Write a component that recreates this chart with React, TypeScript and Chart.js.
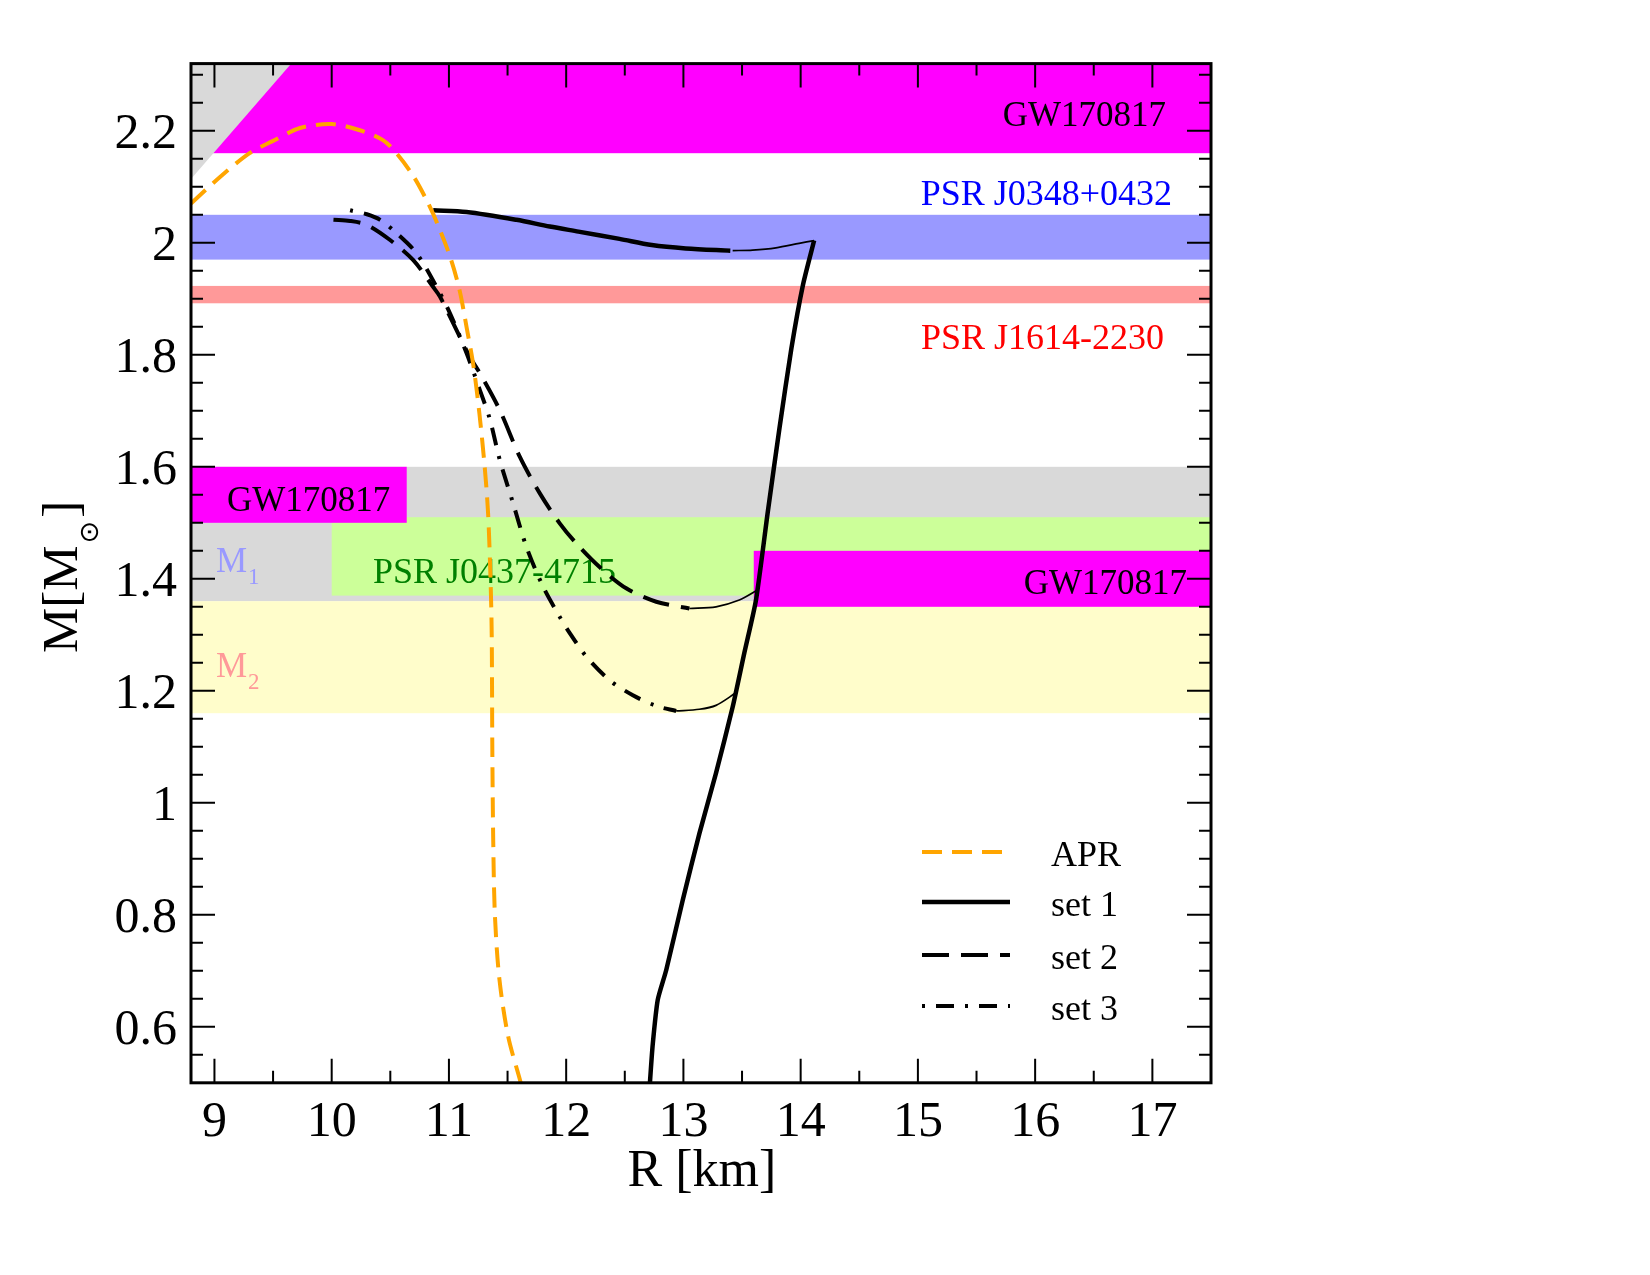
import { useEffect, useRef } from 'react';
import { Chart, registerables } from 'chart.js';

Chart.register(...registerables);

// ---- axis ranges and ticks ----
const rRange = [8.8, 17.5];
const mRange = [0.5, 2.32];
const rMajorTicks = [9, 10, 11, 12, 13, 14, 15, 16, 17];
const rMinorTicks = [9.5, 10.5, 11.5, 12.5, 13.5, 14.5, 15.5, 16.5];
const mMajorTicks = [0.6, 0.8, 1.0, 1.2, 1.4, 1.6, 1.8, 2.0, 2.2];
const mMajorLabels = ['0.6', '0.8', '1', '1.2', '1.4', '1.6', '1.8', '2', '2.2'];
const mMinorStep = 0.05;

// ---- observational constraints (R in km, M in solar masses) ----
const gwUpperMass = [2.16, 2.32];
const causalityEdge = [
  [8.8, 2.11],
  [9.67, 2.32],
];
const psrJ0348Mass = [1.97, 2.05];
const psrJ1614Mass = [1.892, 1.923];
const m1Mass = [1.36, 1.6];
const m2Mass = [1.16, 1.36];
const psrJ0437Radius = [10.0, 17.5];
const psrJ0437Mass = [1.37, 1.51];
const gwM1Radius = [8.8, 10.64];
const gwM1Mass = [1.5, 1.6];
const gwM2Radius = [13.6, 17.5];
const gwM2Mass = [1.35, 1.45];

// ---- mass-radius curves: [R, M] ----
const aprCurve = [
  [8.8, 2.07], [9.05, 2.118], [9.3, 2.16], [9.5, 2.182], [9.73, 2.205], [10.0, 2.212],
  [10.24, 2.201], [10.44, 2.183], [10.56, 2.158], [10.7, 2.118], [10.81, 2.076],
  [10.9, 2.035], [11.01, 1.975], [11.09, 1.916], [11.15, 1.85], [11.21, 1.779],
  [11.26, 1.695], [11.305, 1.6], [11.334, 1.517], [11.355, 1.398], [11.365, 1.3],
  [11.37, 1.1], [11.378, 0.93], [11.392, 0.8], [11.43, 0.686], [11.505, 0.583],
  [11.61, 0.502], [11.65, 0.47],
];

const set1Hadronic = [
  [12.71, 0.48], [12.716, 0.505], [12.739, 0.57], [12.781, 0.648], [12.853, 0.701],
  [12.994, 0.826], [13.136, 0.945], [13.278, 1.053], [13.42, 1.171], [13.519, 1.267],
  [13.619, 1.362], [13.72, 1.52], [13.82, 1.67], [13.92, 1.81], [14.02, 1.925], [14.115, 2.004],
];
const set1Unstable = [
  [14.115, 2.004], [13.987, 1.999], [13.789, 1.991], [13.59, 1.987], [13.42, 1.986],
];
const set1Hybrid = [
  [13.4, 1.986], [13.02, 1.99], [12.73, 1.996], [12.455, 2.007], [12.105, 2.02],
  [11.86, 2.029], [11.576, 2.041], [11.15, 2.055], [10.866, 2.058],
];

const set2Hybrid = [
  [10.015, 2.041], [10.157, 2.039], [10.3, 2.032], [10.498, 2.005], [10.696, 1.969],
  [10.866, 1.921], [10.923, 1.904], [11.009, 1.868], [11.179, 1.796], [11.264, 1.767],
  [11.434, 1.701], [11.604, 1.618], [11.774, 1.553], [11.945, 1.499], [12.087, 1.463],
  [12.285, 1.421], [12.512, 1.383], [12.768, 1.359], [13.051, 1.347],
];
const set2Unstable = [
  [13.051, 1.347], [13.278, 1.35], [13.477, 1.362], [13.633, 1.38],
];

const set3Hybrid = [
  [10.157, 2.058], [10.3, 2.051], [10.413, 2.041], [10.555, 2.017], [10.725, 1.981],
  [10.895, 1.921], [11.009, 1.874], [11.15, 1.803], [11.264, 1.737], [11.349, 1.685],
  [11.434, 1.612], [11.547, 1.535], [11.661, 1.457], [11.803, 1.386], [11.945, 1.332],
  [12.015, 1.308], [12.172, 1.261], [12.37, 1.219], [12.569, 1.192], [12.768, 1.173],
  [12.938, 1.164],
];
const set3Unstable = [
  [12.938, 1.164], [13.136, 1.167], [13.278, 1.174], [13.445, 1.196],
];

// ---- styling ----
const SERIF = '"Liberation Serif", "Times New Roman", serif';
const COLORS = {
  apr: '#FFA500',
  black: '#000000',
  magenta: '#FF00FF',
  gray: '#D9D9D9',
  yellow: '#FFFDCB',
  green: '#CCFF99',
  blueBand: '#9999FF',
  redBand: '#FF9999',
};
const DASH_APR = [20, 10];
const DASH_SET2 = [27, 12];
const DASH_SET3 = [3, 11, 18, 11];
const W_APR = 4;
const W_SOLID = 4.5;
const W_DASHED = 4;
const W_THIN = 1.7;

const toXY = (pts: number[][]) => pts.map(([r, m]) => ({ x: r, y: m }));

const bandLabels = [
  { text: 'GW170817', x: 1166, y: 126, align: 'right', color: '#000000', size: 35 },
  { text: 'PSR J0348+0432', x: 1172, y: 205, align: 'right', color: '#0000FF', size: 36 },
  { text: 'PSR J1614-2230', x: 1164, y: 349, align: 'right', color: '#FF0000', size: 36 },
  { text: 'GW170817', x: 227, y: 511, align: 'left', color: '#000000', size: 35 },
  { text: 'PSR J0437-4715', x: 373, y: 583, align: 'left', color: '#008000', size: 36 },
  { text: 'GW170817', x: 1187, y: 594, align: 'right', color: '#000000', size: 35 },
];

const legendRows = [
  { label: 'APR', color: COLORS.apr, dash: DASH_APR, width: W_APR, y: 852 },
  { label: 'set 1', color: COLORS.black, dash: [] as number[], width: W_SOLID, y: 902 },
  { label: 'set 2', color: COLORS.black, dash: DASH_SET2, width: W_DASHED, y: 955 },
  { label: 'set 3', color: COLORS.black, dash: DASH_SET3, width: W_DASHED, y: 1006 },
];

const decorPlugin = {
  id: 'mrDecor',
  beforeDatasetsDraw(chart: any) {
    const { ctx, chartArea: a, scales } = chart;
    const x = scales.x;
    const y = scales.y;
    ctx.save();
    ctx.beginPath();
    ctx.rect(a.left, a.top, a.right - a.left, a.bottom - a.top);
    ctx.clip();

    const band = (r: number[], m: number[], color: string) => {
      const x0 = x.getPixelForValue(r[0]);
      const x1 = x.getPixelForValue(r[1]);
      const y0 = y.getPixelForValue(m[1]);
      const y1 = y.getPixelForValue(m[0]);
      ctx.fillStyle = color;
      ctx.fillRect(x0, y0, x1 - x0, y1 - y0);
    };

    band(rRange, m1Mass, COLORS.gray);
    band(rRange, m2Mass, COLORS.yellow);
    band(psrJ0437Radius, psrJ0437Mass, COLORS.green);
    band(gwM1Radius, gwM1Mass, COLORS.magenta);
    band(gwM2Radius, gwM2Mass, COLORS.magenta);
    band(rRange, psrJ0348Mass, COLORS.blueBand);
    band(rRange, psrJ1614Mass, COLORS.redBand);
    band(rRange, gwUpperMass, COLORS.magenta);

    // causality-excluded corner
    ctx.fillStyle = COLORS.gray;
    ctx.beginPath();
    ctx.moveTo(x.getPixelForValue(causalityEdge[0][0]) - 2, y.getPixelForValue(causalityEdge[0][1]));
    ctx.lineTo(x.getPixelForValue(causalityEdge[1][0]), y.getPixelForValue(causalityEdge[1][1]) - 2);
    ctx.lineTo(a.left - 2, a.top - 2);
    ctx.closePath();
    ctx.fill();

    // band captions
    ctx.textBaseline = 'alphabetic';
    for (const l of bandLabels) {
      ctx.font = `${l.size}px ${SERIF}`;
      ctx.fillStyle = l.color;
      ctx.textAlign = l.align as CanvasTextAlign;
      ctx.fillText(l.text, l.x, l.y);
    }
    const massLabel = (sub: string, color: string, bx: number, by: number) => {
      ctx.fillStyle = color;
      ctx.textAlign = 'left';
      ctx.font = `35px ${SERIF}`;
      ctx.fillText('M', bx, by);
      const w = ctx.measureText('M').width;
      ctx.font = `23px ${SERIF}`;
      ctx.fillText(sub, bx + w + 1, by + 12);
    };
    massLabel('1', COLORS.blueBand, 216, 572);
    massLabel('2', COLORS.redBand, 216, 677);
    ctx.restore();
  },
  afterDatasetsDraw(chart: any) {
    const { ctx, chartArea: a, scales } = chart;
    const x = scales.x;
    const y = scales.y;
    ctx.save();
    ctx.strokeStyle = '#000';
    ctx.setLineDash([]);
    ctx.lineCap = 'butt';

    // ticks (inside, on all four sides)
    const MAJ = 24;
    const MIN = 12;
    ctx.lineWidth = 2;
    ctx.beginPath();
    const xTick = (v: number, len: number) => {
      const px = x.getPixelForValue(v);
      ctx.moveTo(px, a.bottom);
      ctx.lineTo(px, a.bottom - len);
      ctx.moveTo(px, a.top);
      ctx.lineTo(px, a.top + len);
    };
    const yTick = (v: number, len: number) => {
      const py = y.getPixelForValue(v);
      ctx.moveTo(a.left, py);
      ctx.lineTo(a.left + len, py);
      ctx.moveTo(a.right, py);
      ctx.lineTo(a.right - len, py);
    };
    rMajorTicks.forEach((v) => xTick(v, MAJ));
    rMinorTicks.forEach((v) => xTick(v, MIN));
    mMajorTicks.forEach((v) => yTick(v, MAJ));
    for (let k = Math.ceil(mRange[0] / mMinorStep + 1e-6); k * mMinorStep < mRange[1] - 1e-6; k++) {
      const v = k * mMinorStep;
      if (mMajorTicks.some((t) => Math.abs(t - v) < 1e-6)) continue;
      yTick(v, MIN);
    }
    ctx.stroke();

    // frame
    ctx.lineWidth = 3;
    ctx.strokeRect(a.left, a.top, a.right - a.left, a.bottom - a.top);

    // tick labels
    ctx.fillStyle = '#000';
    ctx.font = `50px ${SERIF}`;
    ctx.textBaseline = 'alphabetic';
    ctx.textAlign = 'center';
    rMajorTicks.forEach((v) => ctx.fillText(String(v), x.getPixelForValue(v), 1136));
    ctx.textAlign = 'right';
    mMajorTicks.forEach((v, i) => ctx.fillText(mMajorLabels[i], 177, y.getPixelForValue(v) + 17));

    // axis titles
    ctx.font = `52px ${SERIF}`;
    ctx.textAlign = 'center';
    ctx.fillText('R [km]', 702, 1186);

    ctx.save();
    ctx.translate(77, 653);
    ctx.rotate(-Math.PI / 2);
    ctx.textAlign = 'left';
    ctx.font = `51px ${SERIF}`;
    ctx.fillText('M[M', 0, 0);
    const w1 = ctx.measureText('M[M').width;
    ctx.font = `27px "DejaVu Sans", sans-serif`;
    ctx.fillText('\u2299', w1 + 2, 21);
    const w2 = ctx.measureText('\u2299').width;
    ctx.font = `51px ${SERIF}`;
    ctx.fillText(']', w1 + w2 + 5, 0);
    ctx.restore();

    // legend
    for (const row of legendRows) {
      ctx.strokeStyle = row.color;
      ctx.lineWidth = row.width;
      ctx.setLineDash(row.dash);
      ctx.beginPath();
      ctx.moveTo(922, row.y);
      ctx.lineTo(1010, row.y);
      ctx.stroke();
      ctx.setLineDash([]);
      ctx.fillStyle = '#000';
      ctx.font = `36px ${SERIF}`;
      ctx.textAlign = 'left';
      ctx.fillText(row.label, 1051, row.y + 14);
    }
    ctx.restore();
  },
};

export default function App() {
  const canvasRef = useRef<HTMLCanvasElement | null>(null);

  useEffect(() => {
    const canvas = canvasRef.current;
    if (!canvas) return;
    const thin = { borderColor: COLORS.black, borderWidth: W_THIN, pointRadius: 0, showLine: true, tension: 0.3, fill: false };
    const chart = new Chart(canvas, {
      type: 'scatter',
      data: {
        datasets: [
          { label: 'APR', data: toXY(aprCurve), borderColor: COLORS.apr, borderWidth: W_APR, borderDash: DASH_APR, pointRadius: 0, showLine: true, tension: 0.3, fill: false },
          { label: 'set 1', data: toXY(set1Hadronic), borderColor: COLORS.black, borderWidth: W_SOLID, pointRadius: 0, showLine: true, tension: 0.2, fill: false },
          { label: 'set 1 unstable', data: toXY(set1Unstable), ...thin },
          { label: 'set 1 hybrid', data: toXY(set1Hybrid), borderColor: COLORS.black, borderWidth: W_SOLID, pointRadius: 0, showLine: true, tension: 0.3, fill: false },
          { label: 'set 2', data: toXY(set2Hybrid), borderColor: COLORS.black, borderWidth: W_DASHED, borderDash: DASH_SET2, pointRadius: 0, showLine: true, tension: 0.3, fill: false },
          { label: 'set 2 unstable', data: toXY(set2Unstable), ...thin },
          { label: 'set 3', data: toXY(set3Hybrid), borderColor: COLORS.black, borderWidth: W_DASHED, borderDash: DASH_SET3, pointRadius: 0, showLine: true, tension: 0.3, fill: false },
          { label: 'set 3 unstable', data: toXY(set3Unstable), ...thin },
        ],
      },
      options: {
        animation: false,
        responsive: false,
        events: [],
        layout: { padding: { left: 191, right: 439, top: 63.6, bottom: 192.2 } },
        plugins: { legend: { display: false }, tooltip: { enabled: false } },
        scales: {
          x: { type: 'linear', min: rRange[0], max: rRange[1], display: false },
          y: { type: 'linear', min: mRange[0], max: mRange[1], display: false },
        },
      },
      plugins: [decorPlugin],
    } as any);
    return () => chart.destroy();
  }, []);

  return (
    <div style={{ position: 'fixed', left: 0, top: 0, width: 1650, height: 1275, background: '#fff' }}>
      <canvas ref={canvasRef} width={1650} height={1275} style={{ display: 'block', width: 1650, height: 1275 }} />
    </div>
  );
}
